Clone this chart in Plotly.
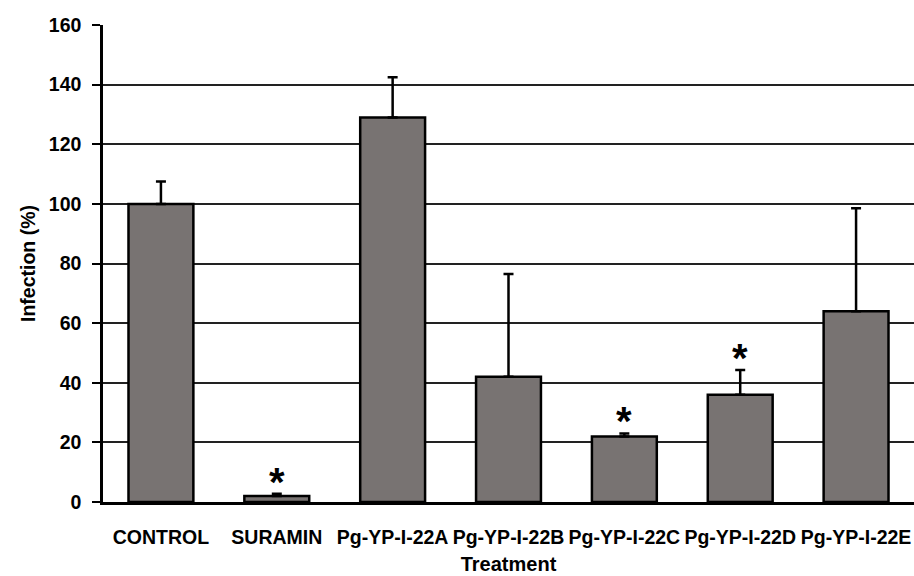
import plotly.graph_objects as go

categories = ["CONTROL", "SURAMIN", "Pg-YP-I-22A", "Pg-YP-I-22B",
              "Pg-YP-I-22C", "Pg-YP-I-22D", "Pg-YP-I-22E"]
infection = [100, 2, 129, 42, 22, 36, 64]
error_up = [7.5, 0.8, 13.5, 34.5, 1.0, 8.3, 34.5]
significant = [False, True, False, False, True, True, False]
y_ticks = [0, 20, 40, 60, 80, 100, 120, 140, 160]

FONT = "Liberation Sans, Arial, sans-serif"

fig = go.Figure()
fig.add_trace(go.Bar(
    x=categories, y=infection, width=0.56,
    marker=dict(color="#787372", line=dict(color="black", width=2.5)),
    error_y=dict(type="data", array=error_up, arrayminus=[0]*len(error_up),
                 symmetric=False, color="black", thickness=2.5, width=5),
    showlegend=False,
))

for c, v, e, s in zip(categories, infection, error_up, significant):
    if s:
        fig.add_annotation(x=c, y=v + e, text="<b>*</b>", showarrow=False,
                           yanchor="bottom", yshift=-12,
                           font=dict(family=FONT, size=40, color="black"))

fig.update_layout(
    width=914, height=576,
    margin=dict(l=103, r=0, t=25, b=74),
    plot_bgcolor="white", paper_bgcolor="white",
    font=dict(family=FONT, color="black"),
    bargap=0.44,
)
fig.update_xaxes(
    showline=True, linecolor="black", linewidth=2.5, ticks="",
    tickangle=0,
    tickfont=dict(family=FONT, size=19.5, weight="bold"),
    ticklabelstandoff=16,
    title=dict(text="<b>Treatment</b>", font=dict(size=20), standoff=10),
    range=[-0.5, 6.5],
)
fig.update_yaxes(
    range=[0, 160], tickvals=y_ticks, showline=True, linecolor="black",
    linewidth=2.5, ticks="outside", ticklen=8, tickwidth=2, tickcolor="black",
    showgrid=True, gridcolor="#222222", gridwidth=1.6,
    tickfont=dict(family=FONT, size=19.5, weight="bold"),
    ticklabelstandoff=7,
    title=dict(text="<b>Infection (%)</b>", font=dict(size=19.5), standoff=8),
    zeroline=False,
)

fig.write_html("out.html")
